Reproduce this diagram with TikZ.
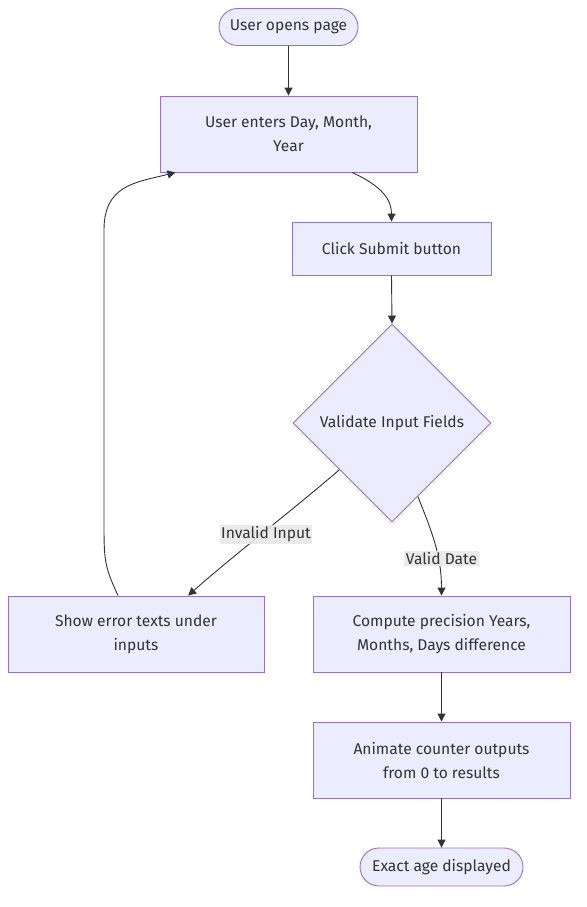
\documentclass[tikz,border=0pt]{standalone}
\usepackage{fontspec}
\setmainfont{Fira Sans}
\usetikzlibrary{shapes.geometric,shapes.misc,arrows.meta,calc}
\definecolor{nodefill}{HTML}{ECECFF}
\definecolor{nodeline}{HTML}{9370DB}
\definecolor{txt}{HTML}{333333}
\definecolor{lblbg}{HTML}{E8E8E8}
\begin{document}
\begin{tikzpicture}[x=1pt,y=-1pt,
  every node/.style={font=\fontsize{15.6}{24}\selectfont, text=txt},
  box/.style={draw=nodeline, fill=nodefill, line width=0.9pt, rectangle, inner sep=0pt, align=center},
  pill/.style={draw=nodeline, fill=nodefill, line width=0.9pt, rounded rectangle, inner sep=0pt, align=center},
  dia/.style={draw=nodeline, fill=nodefill, line width=0.9pt, diamond, inner sep=0pt, minimum size=198pt, align=center},
  conn/.style={draw=txt, line width=0.9pt, -{Triangle[length=8pt,width=8pt]}},
  lbl/.style={fill=lblbg, fill opacity=0.9, text opacity=1, inner sep=1.5pt}
]
\useasboundingbox (0,0) rectangle (586,907);

\node[pill, minimum width=139pt, minimum height=37pt] (start) at (288.5,27) {User opens page};
\node[box, minimum width=257pt, minimum height=76pt] (enter) at (288.5,134) {User enters Day, Month,\\Year};
\node[box, minimum width=199pt, minimum height=53pt] (click) at (391.5,248.5) {Click Submit button};
\node[dia] (val) at (392,423) {Validate Input Fields};
\node[box, minimum width=256pt, minimum height=76pt] (err) at (136,634) {Show error texts under\\inputs};
\node[box, minimum width=257pt, minimum height=76pt] (comp) at (441.5,634) {Compute precision Years,\\Months, Days difference};
\node[box, minimum width=257pt, minimum height=76pt] (anim) at (441.5,760) {Animate counter outputs\\from 0 to results};
\node[pill, minimum width=163pt, minimum height=38pt] (exact) at (441.5,867) {Exact age displayed};

\draw[conn] (start.south) -- (enter.north -| start.south);
\draw[conn] ($(enter.south west)!0.747!(enter.south east)$) .. controls +(30,14) and +(0,-22) .. (click.north);
\draw[conn] (click.south) -- (val.north);
\draw[conn] ($(val.west)!0.47!(val.south)$) .. controls +(-40,35) and +(45,-40) .. ($(err.north west)!0.703!(err.north east)$);
\draw[conn] ($(val.south)!0.26!(val.east)$) .. controls +(14,35) and +(0,-40) .. ($(comp.north west)!0.5!(comp.north east)$);
\draw[conn] ($(err.north west)!0.43!(err.north east)$) .. controls +(-14,-30) and +(0,40) .. (104,520) -- (104,230) .. controls +(0,-45) and +(-40,10) .. ($(enter.south west)!0.062!(enter.south east)$);
\draw[conn] (comp.south) -- (anim.north);
\draw[conn] (anim.south) -- (exact.north);

\node[lbl] (l1) at (266,534.5) {Invalid Input};
\node[lbl] (l2) at (441.5,558.5) {Valid Date};
\end{tikzpicture}
\end{document}
